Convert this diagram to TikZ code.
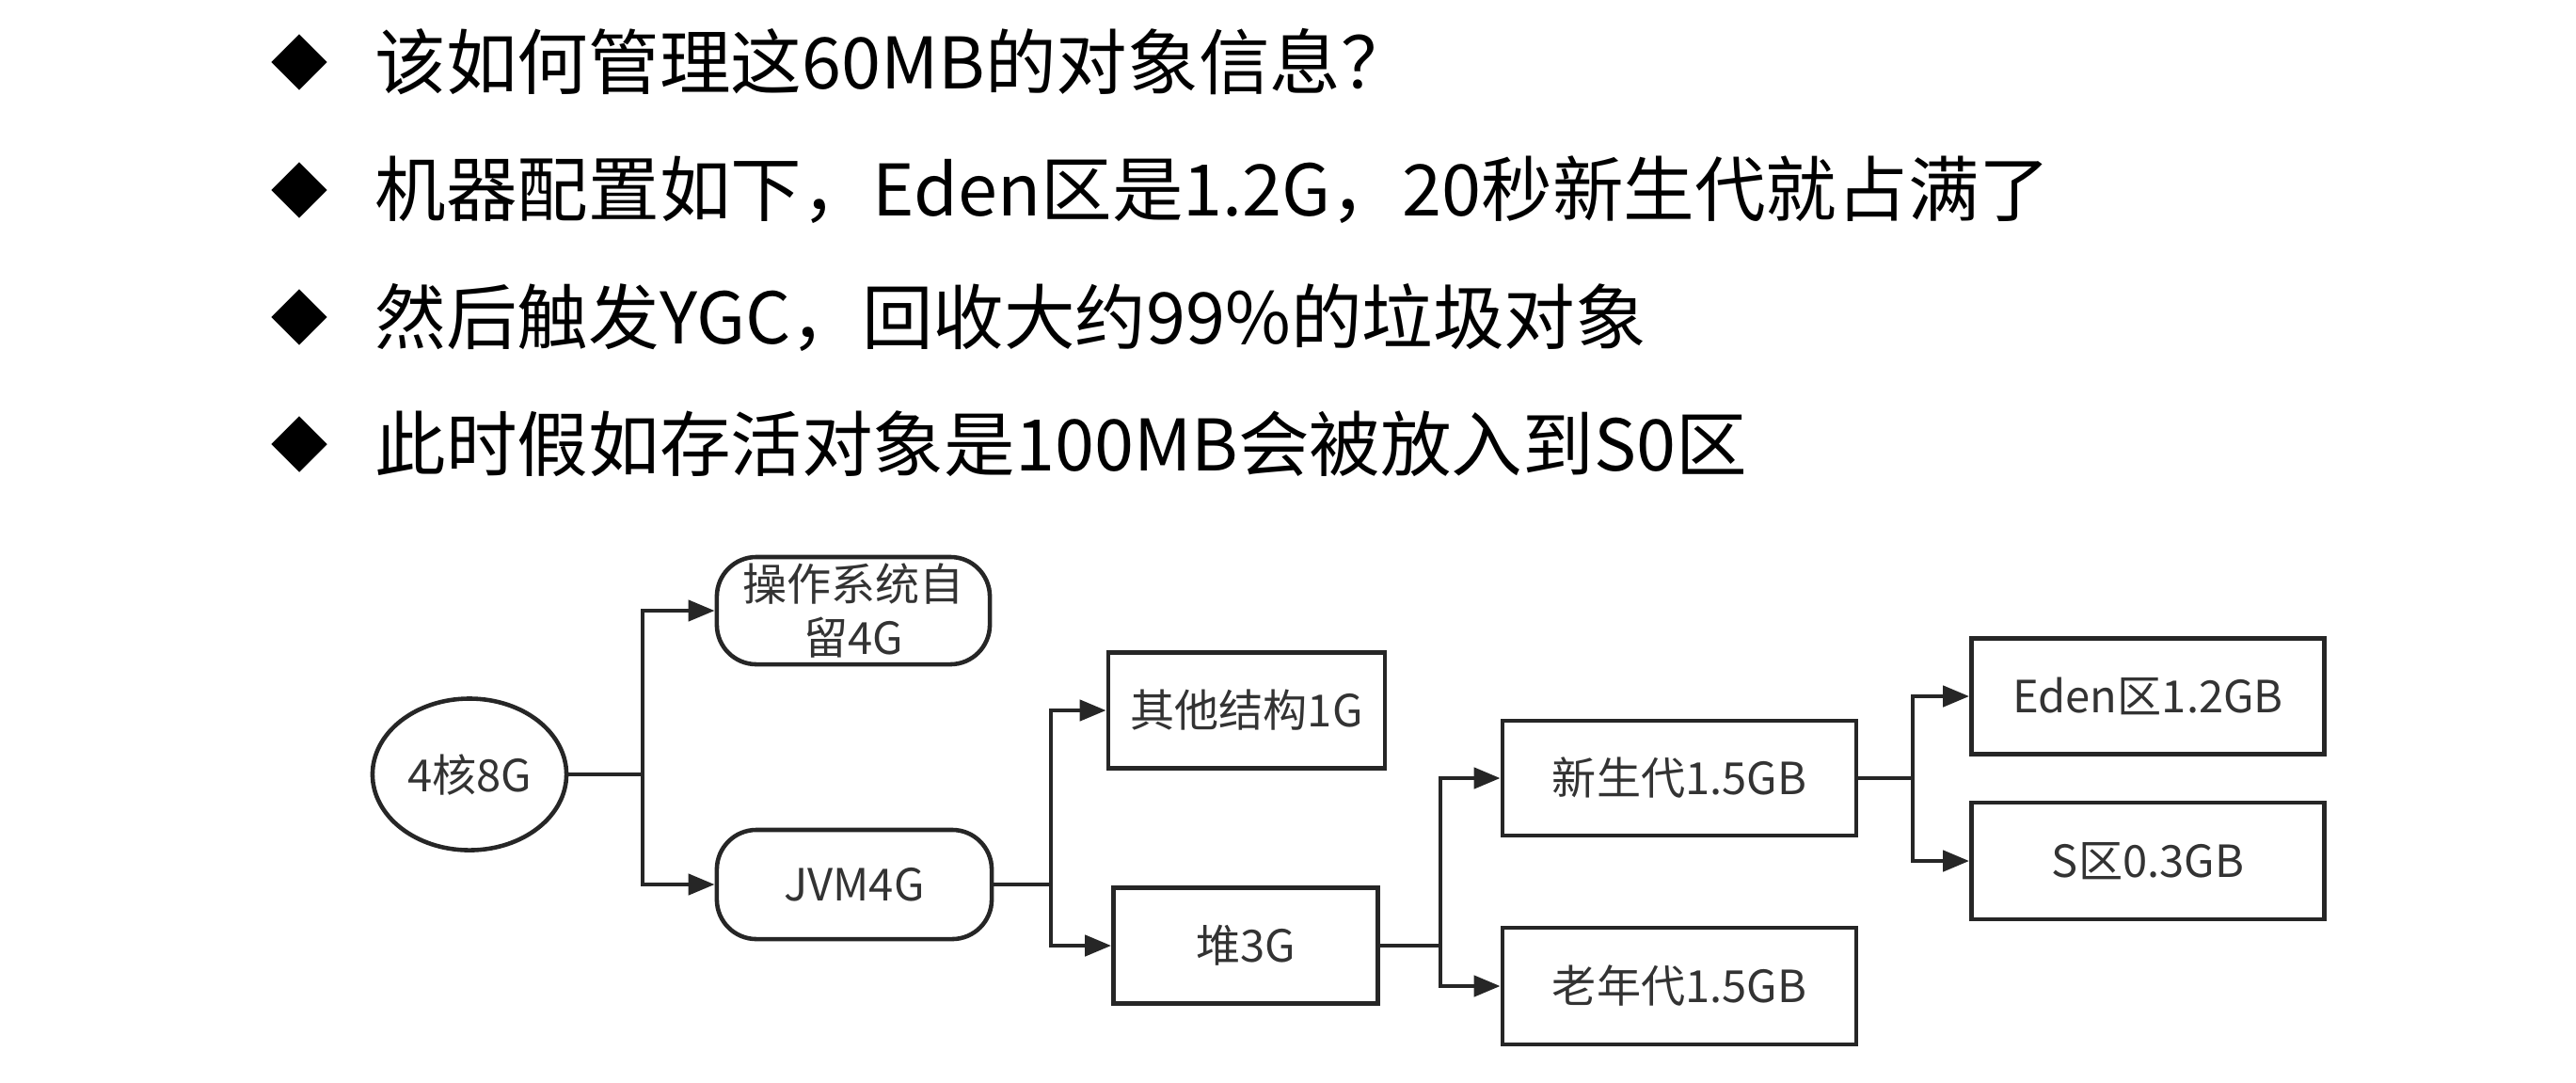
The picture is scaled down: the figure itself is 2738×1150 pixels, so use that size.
\documentclass[tikz,border=0pt]{standalone}
\usepackage{fontspec}
\setmainfont{Noto Sans CJK SC}
\usetikzlibrary{arrows.meta,shapes.geometric}

\tikzset{
  box/.style={draw=black!85, line width=1.3pt, text=black!80, align=center, inner sep=0pt,
    font=\fontsize{13.4pt}{16.2pt}\selectfont},
  pill/.style={box, rounded corners=0.42cm},
  oval/.style={box, ellipse},
  link/.style={draw=black!85, line width=1.3pt},
  arr/.style={link, -{Triangle[length=0.28cm,width=0.22cm]}},
  bullet/.style={diamond, fill=black, inner sep=0pt, minimum width=0.6cm, minimum height=0.6cm},
  item/.style={anchor=west, inner sep=0pt, font=\fontsize{21.5pt}{25pt}\selectfont}
}

\begin{document}
\begin{tikzpicture}[x=0.01cm,y=-0.01cm]
  \fill[white] (0,0) rectangle (2738,1150);
  \useasboundingbox (0,0) rectangle (2738,1150);

  % bullet list
  \node[bullet] (b1) at (318,66) {};
  \node[bullet] (b2) at (318,202) {};
  \node[bullet] (b3) at (318,337) {};
  \node[bullet] (b4) at (318,472) {};
  \node[item] (t1) at (398,66) {该如何管理这60MB的对象信息？};
  \node[item] (t2) at (398,202) {机器配置如下，Eden区是1.2G，20秒新生代就占满了};
  \node[item] (t3) at (398,337) {然后触发YGC，回收大约99\%的垃圾对象};
  \node[item] (t4) at (398,472) {此时假如存活对象是100MB会被放入到S0区};

  % memory tree
  \node[oval, minimum width=2.06cm, minimum height=1.61cm] (host) at (499,823) {4核8G};
  \node[pill, minimum width=2.9cm, minimum height=1.14cm] (os) at (907,649) {操作系统自\\留4G};
  \node[pill, minimum width=2.92cm, minimum height=1.16cm] (jvm) at (908,940) {JVM4G};
  \node[box, minimum width=2.94cm, minimum height=1.23cm] (other) at (1325,755) {其他结构1G};
  \node[box, minimum width=2.81cm, minimum height=1.23cm] (heap) at (1324,1005) {堆3G};
  \node[box, minimum width=3.76cm, minimum height=1.22cm] (young) at (1785,827) {新生代1.5GB};
  \node[box, minimum width=3.76cm, minimum height=1.24cm] (old) at (1785,1048) {老年代1.5GB};
  \node[box, minimum width=3.75cm, minimum height=1.23cm] (eden) at (2283,740) {Eden区1.2GB};
  \node[box, minimum width=3.75cm, minimum height=1.24cm] (surv) at (2283,915) {S区0.3GB};

  % branch points
  \coordinate (j1) at (683,823);
  \coordinate (j2) at (1117,940);
  \coordinate (j3) at (1531,1005);
  \coordinate (j4) at (2033,827);

  \draw[link] (host.east) -- (j1);
  \draw[arr] (j1) |- (os.west);
  \draw[arr] (j1) |- (jvm.west);
  \draw[link] (jvm.east) -- (j2);
  \draw[arr] (j2) |- (other.west);
  \draw[arr] (j2) |- (heap.west);
  \draw[link] (heap.east) -- (j3);
  \draw[arr] (j3) |- (young.west);
  \draw[arr] (j3) |- (old.west);
  \draw[link] (young.east) -- (j4);
  \draw[arr] (j4) |- (eden.west);
  \draw[arr] (j4) |- (surv.west);
\end{tikzpicture}
\end{document}
